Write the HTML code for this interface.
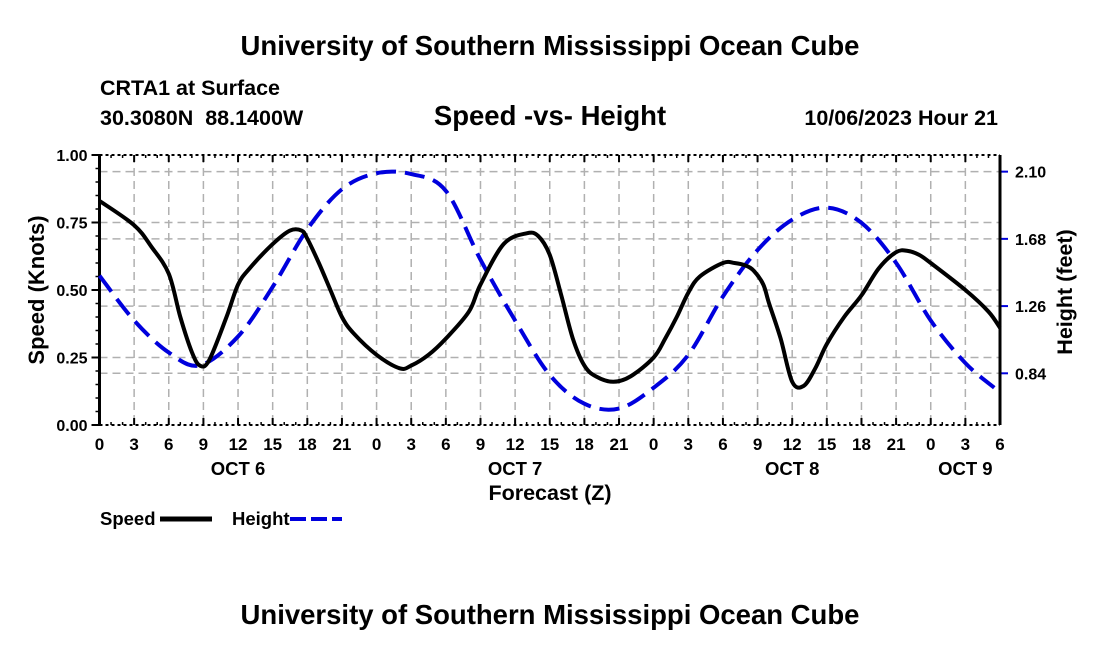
<!DOCTYPE html>
<html><head><meta charset="utf-8"><style>
body{margin:0;background:#fff;}
svg text{font-family:"Liberation Sans",sans-serif;font-weight:bold;fill:#000;}
</style></head><body>
<svg id="chart" width="1100" height="650" xmlns="http://www.w3.org/2000/svg">
<rect width="1100" height="650" fill="#fff"/>
<text x="550" y="55" font-size="27.5" text-anchor="middle">University of Southern Mississippi Ocean Cube</text>
<text x="100" y="95" font-size="21.5">CRTA1 at Surface</text>
<text x="100" y="125" font-size="21.5" xml:space="preserve">30.3080N  88.1400W</text>
<text x="550" y="125" font-size="27.5" text-anchor="middle">Speed -vs- Height</text>
<text x="998" y="125" font-size="21.5" text-anchor="end">10/06/2023 Hour 21</text>
<g id="grid"></g>
<g id="axes"></g>
<g id="series"></g>
<text x="550" y="500" font-size="21.5" text-anchor="middle">Forecast (Z)</text>
<text transform="translate(44,290) rotate(-90)" font-size="22" text-anchor="middle">Speed (Knots)</text>
<text transform="translate(1072,292) rotate(-90)" font-size="21.5" text-anchor="middle">Height (feet)</text>
<g>
<text x="100" y="525" font-size="18.5">Speed</text>
<line x1="160" y1="519" x2="212" y2="519" stroke="#000" stroke-width="5"/>
<text x="232" y="525" font-size="18.5">Height</text>
<line x1="290" y1="519" x2="342" y2="519" stroke="#0000dd" stroke-width="4" stroke-dasharray="16,5"/>
</g>
<text x="550" y="624" font-size="27.5" text-anchor="middle">University of Southern Mississippi Ocean Cube</text>
</svg>
<script>
const speedHours=[0,3,4.5,6,7,8,8.7,9.5,11,12,13,15,16.5,17.5,18,19,20,21,22,24,26,27,28.5,30,32,33,35,37,38,39,40,41,42,43,44.5,46,48,49,50,51,52,54,55,56,56.7,57.5,58,59,60,61,62,63,64.5,66,67.5,69,70,71,72,75,77,78];
const speedValues=[.83,.74,.66,.56,.40,.27,.22,.24,.40,.52,.58,.67,.72,.72,.69,.60,.50,.40,.34,.26,.21,.22,.26,.32,.42,.52,.67,.71,.70,.63,.48,.32,.22,.18,.16,.18,.25,.32,.40,.49,.55,.60,.60,.59,.57,.52,.45,.32,.16,.145,.21,.30,.40,.48,.58,.64,.645,.63,.60,.50,.42,.36];
const heightHours=[0,3,6,8.7,12,15,18,21,24,27,30,33,36,39,42,45,48,51,54,57,60,63,66,69,72,75,77.5];
const heightValues=[1.45,1.17,0.97,0.89,1.07,1.38,1.74,1.99,2.09,2.085,1.98,1.55,1.17,0.83,0.65,0.62,0.75,0.955,1.32,1.61,1.80,1.875,1.78,1.53,1.17,0.904,0.75];
const speedTicks=["0.00","0.25","0.50","0.75","1.00"];
const heightTicks=["0.84","1.26","1.68","2.10"];
const hourLabels=["0","3","6","9","12","15","18","21","0","3","6","9","12","15","18","21","0","3","6","9","12","15","18","21","0","3","6"];
const dayLabels=["OCT 6","OCT 7","OCT 8","OCT 9"];
const X0=99.5,X1=1000,Y0=425,Y1=155,HMAX=78,FT0=0.517,FT1=2.204;
const xs=h=>X0+h*(X1-X0)/HMAX;
const ysp=v=>Y0-v*(Y0-Y1);
const yht=f=>Y0-(f-FT0)/(FT1-FT0)*(Y0-Y1);
const NS="http://www.w3.org/2000/svg";
function mk(tag,attrs,parent){const e=document.createElementNS(NS,tag);for(const k in attrs)e.setAttribute(k,attrs[k]);parent.appendChild(e);return e;}
const grid=document.getElementById('grid'),axes=document.getElementById('axes'),series=document.getElementById('series');
const gs={stroke:"#b0b0b0","stroke-width":1.5,"stroke-dasharray":"8,5"};
hourLabels.forEach((l,i)=>{const x=xs(i*3);if(i>0&&i<hourLabels.length-1){const g=mk('line',Object.assign({x1:x,x2:x,y1:Y1,y2:Y0},gs),grid);

}
const t=mk('text',{x:x,y:Y0+25,"font-size":17,"text-anchor":"middle"},axes);t.textContent=l;


mk('line',{x1:x,x2:x,y1:Y0,y2:Y0-7,stroke:"#000","stroke-width":2},axes);
mk('line',{x1:x,x2:x,y1:Y1,y2:Y1+7,stroke:"#000","stroke-width":2},axes);});
for(let h=1;h<HMAX;h++){if(h%3){mk('line',{x1:xs(h),x2:xs(h),y1:Y0,y2:Y0-3,stroke:"#000","stroke-width":1.5},axes);mk('line',{x1:xs(h),x2:xs(h),y1:Y1,y2:Y1+3,stroke:"#000","stroke-width":1.5},axes);}}
dayLabels.forEach((d,i)=>{const t=mk('text',{x:i<3?xs(12+24*i):xs(72+3),y:Y0+50,"font-size":18.5,"text-anchor":"middle"},axes);t.textContent=d;

});
speedTicks.forEach((l,i)=>{const v=parseFloat(l),y=ysp(v);
if(i>0&&i<speedTicks.length-1){const g=mk('line',Object.assign({x1:X0,x2:X1,y1:y,y2:y},gs),grid);

}
mk('line',{x1:X0-8,x2:X0,y1:y,y2:y,stroke:"#000","stroke-width":2},axes);
const t=mk('text',{x:X0-12,y:y+6,"font-size":16,"text-anchor":"end"},axes);t.textContent=l;

});
for(let v=0.05;v<1;v+=0.05){mk('line',{x1:X0-4,x2:X0,y1:ysp(v),y2:ysp(v),stroke:"#000","stroke-width":1.5},axes);}
heightTicks.forEach(l=>{const y=yht(parseFloat(l));
const g=mk('line',Object.assign({x1:X0,x2:X1,y1:y,y2:y},gs),grid);


mk('line',{x1:X1,x2:X1+8,y1:y,y2:y,stroke:"#0000dd","stroke-width":2},axes);
const t=mk('text',{x:X1+15,y:y+6,"font-size":16},axes);t.textContent=l;

});
mk('line',{x1:X0,x2:X1,y1:Y1,y2:Y1,stroke:"#000","stroke-width":2,"stroke-dasharray":"3,3"},axes);
mk('line',{x1:X0,x2:X1,y1:Y0,y2:Y0,stroke:"#000","stroke-width":2,"stroke-dasharray":"3,3"},axes);
mk('line',{x1:X0,x2:X0,y1:Y1,y2:Y0,stroke:"#000","stroke-width":3},axes);
mk('line',{x1:X1,x2:X1,y1:Y1,y2:Y0,stroke:"#000","stroke-width":3},axes);
function smooth(pts){let d=`M${pts[0][0]},${pts[0][1]}`;for(let i=0;i<pts.length-1;i++){const p0=pts[i-1]||pts[i],p1=pts[i],p2=pts[i+1],p3=pts[i+2]||p2;
d+=` C${p1[0]+(p2[0]-p0[0])/6},${p1[1]+(p2[1]-p0[1])/6} ${p2[0]-(p3[0]-p1[0])/6},${p2[1]-(p3[1]-p1[1])/6} ${p2[0]},${p2[1]}`;}return d;}
const hp=mk('path',{d:smooth(heightHours.map((h,i)=>[xs(h),yht(heightValues[i])])),fill:"none",stroke:"#0000dd","stroke-width":4,"stroke-dasharray":"20,9"},series);


const sp=mk('path',{d:smooth(speedHours.map((h,i)=>[xs(h),ysp(speedValues[i])])),fill:"none",stroke:"#000","stroke-width":4,"stroke-linejoin":"round"},series);


</script>
</body></html>
